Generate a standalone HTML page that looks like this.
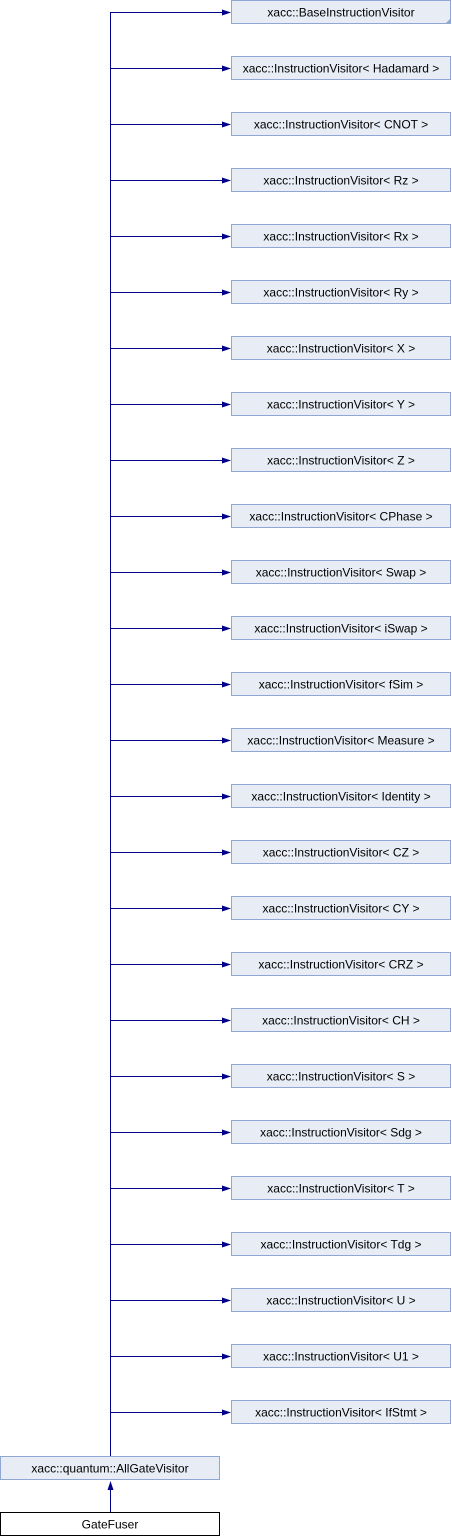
<!DOCTYPE html>
<html><head><style>body{margin:0;background:#fff}svg{display:block}</style></head><body>
<svg width="452" height="1536" xmlns="http://www.w3.org/2000/svg" font-family="Liberation Sans, Arial, sans-serif" font-size="12">
<defs><marker id="a" markerWidth="10" markerHeight="8" refX="9" refY="4" orient="auto" markerUnits="userSpaceOnUse"><path d="M0,1 L9,4 L0,7 Z" fill="#00008b"/></marker></defs>
<g stroke="#00008b" fill="none">
<line x1="110.5" y1="12" x2="110.5" y2="1457"/>
<path d="M110 12.5H230M110 68.5H230M110 124.5H230M110 180.5H230M110 236.5H230M110 292.5H230M110 348.5H230M110 404.5H230M110 460.5H230M110 516.5H230M110 572.5H230M110 628.5H230M110 684.5H230M110 740.5H230M110 796.5H230M110 852.5H230M110 908.5H230M110 964.5H230M110 1020.5H230M110 1076.5H230M110 1132.5H230M110 1188.5H230M110 1244.5H230M110 1300.5H230M110 1356.5H230M110 1412.5H230"/>
</g>
<g fill="#00008b">
<path d="M222 9.5L231 12.5L222 15.5Z"/><path d="M222 65.5L231 68.5L222 71.5Z"/><path d="M222 121.5L231 124.5L222 127.5Z"/><path d="M222 177.5L231 180.5L222 183.5Z"/><path d="M222 233.5L231 236.5L222 239.5Z"/><path d="M222 289.5L231 292.5L222 295.5Z"/><path d="M222 345.5L231 348.5L222 351.5Z"/><path d="M222 401.5L231 404.5L222 407.5Z"/><path d="M222 457.5L231 460.5L222 463.5Z"/><path d="M222 513.5L231 516.5L222 519.5Z"/><path d="M222 569.5L231 572.5L222 575.5Z"/><path d="M222 625.5L231 628.5L222 631.5Z"/><path d="M222 681.5L231 684.5L222 687.5Z"/><path d="M222 737.5L231 740.5L222 743.5Z"/><path d="M222 793.5L231 796.5L222 799.5Z"/><path d="M222 849.5L231 852.5L222 855.5Z"/><path d="M222 905.5L231 908.5L222 911.5Z"/><path d="M222 961.5L231 964.5L222 967.5Z"/><path d="M222 1017.5L231 1020.5L222 1023.5Z"/><path d="M222 1073.5L231 1076.5L222 1079.5Z"/><path d="M222 1129.5L231 1132.5L222 1135.5Z"/><path d="M222 1185.5L231 1188.5L222 1191.5Z"/><path d="M222 1241.5L231 1244.5L222 1247.5Z"/><path d="M222 1297.5L231 1300.5L222 1303.5Z"/><path d="M222 1353.5L231 1356.5L222 1359.5Z"/><path d="M222 1409.5L231 1412.5L222 1415.5Z"/>
<path d="M107.5 1490L110.5 1481L113.5 1490Z"/>
</g>
<g fill="#e8ecf5" stroke="#8fa7d3">
<rect x="231.5" y="0.5" width="219" height="23"/><rect x="231.5" y="56.5" width="219" height="23"/><rect x="231.5" y="112.5" width="219" height="23"/><rect x="231.5" y="168.5" width="219" height="23"/><rect x="231.5" y="224.5" width="219" height="23"/><rect x="231.5" y="280.5" width="219" height="23"/><rect x="231.5" y="336.5" width="219" height="23"/><rect x="231.5" y="392.5" width="219" height="23"/><rect x="231.5" y="448.5" width="219" height="23"/><rect x="231.5" y="504.5" width="219" height="23"/><rect x="231.5" y="560.5" width="219" height="23"/><rect x="231.5" y="616.5" width="219" height="23"/><rect x="231.5" y="672.5" width="219" height="23"/><rect x="231.5" y="728.5" width="219" height="23"/><rect x="231.5" y="784.5" width="219" height="23"/><rect x="231.5" y="840.5" width="219" height="23"/><rect x="231.5" y="896.5" width="219" height="23"/><rect x="231.5" y="952.5" width="219" height="23"/><rect x="231.5" y="1008.5" width="219" height="23"/><rect x="231.5" y="1064.5" width="219" height="23"/><rect x="231.5" y="1120.5" width="219" height="23"/><rect x="231.5" y="1176.5" width="219" height="23"/><rect x="231.5" y="1232.5" width="219" height="23"/><rect x="231.5" y="1288.5" width="219" height="23"/><rect x="231.5" y="1344.5" width="219" height="23"/><rect x="231.5" y="1400.5" width="219" height="23"/>
<rect x="0.5" y="1456.5" width="219" height="23"/>
</g>
<path d="M446 23L450 19V23Z" fill="#8fa7d3"/>
<rect x="0.5" y="1512.5" width="219" height="23" fill="#fff" stroke="#000"/>
<g text-anchor="middle" fill="#000">
<text x="341" y="16.5">xacc::BaseInstructionVisitor</text>
<text x="341" y="72.5">xacc::InstructionVisitor&lt; Hadamard &gt;</text>
<text x="341" y="128.5">xacc::InstructionVisitor&lt; CNOT &gt;</text>
<text x="341" y="184.5">xacc::InstructionVisitor&lt; Rz &gt;</text>
<text x="341" y="240.5">xacc::InstructionVisitor&lt; Rx &gt;</text>
<text x="341" y="296.5">xacc::InstructionVisitor&lt; Ry &gt;</text>
<text x="341" y="352.5">xacc::InstructionVisitor&lt; X &gt;</text>
<text x="341" y="408.5">xacc::InstructionVisitor&lt; Y &gt;</text>
<text x="341" y="464.5">xacc::InstructionVisitor&lt; Z &gt;</text>
<text x="341" y="520.5">xacc::InstructionVisitor&lt; CPhase &gt;</text>
<text x="341" y="576.5">xacc::InstructionVisitor&lt; Swap &gt;</text>
<text x="341" y="632.5">xacc::InstructionVisitor&lt; iSwap &gt;</text>
<text x="341" y="688.5">xacc::InstructionVisitor&lt; fSim &gt;</text>
<text x="341" y="744.5">xacc::InstructionVisitor&lt; Measure &gt;</text>
<text x="341" y="800.5">xacc::InstructionVisitor&lt; Identity &gt;</text>
<text x="341" y="856.5">xacc::InstructionVisitor&lt; CZ &gt;</text>
<text x="341" y="912.5">xacc::InstructionVisitor&lt; CY &gt;</text>
<text x="341" y="968.5">xacc::InstructionVisitor&lt; CRZ &gt;</text>
<text x="341" y="1024.5">xacc::InstructionVisitor&lt; CH &gt;</text>
<text x="341" y="1080.5">xacc::InstructionVisitor&lt; S &gt;</text>
<text x="341" y="1136.5">xacc::InstructionVisitor&lt; Sdg &gt;</text>
<text x="341" y="1192.5">xacc::InstructionVisitor&lt; T &gt;</text>
<text x="341" y="1248.5">xacc::InstructionVisitor&lt; Tdg &gt;</text>
<text x="341" y="1304.5">xacc::InstructionVisitor&lt; U &gt;</text>
<text x="341" y="1360.5">xacc::InstructionVisitor&lt; U1 &gt;</text>
<text x="341" y="1416.5">xacc::InstructionVisitor&lt; IfStmt &gt;</text>
<text x="110" y="1472.5">xacc::quantum::AllGateVisitor</text>
<text x="110" y="1528.5">GateFuser</text>
</g>
<line x1="110.5" y1="1512" x2="110.5" y2="1488" stroke="#00008b"/>
</svg>
</body></html>
